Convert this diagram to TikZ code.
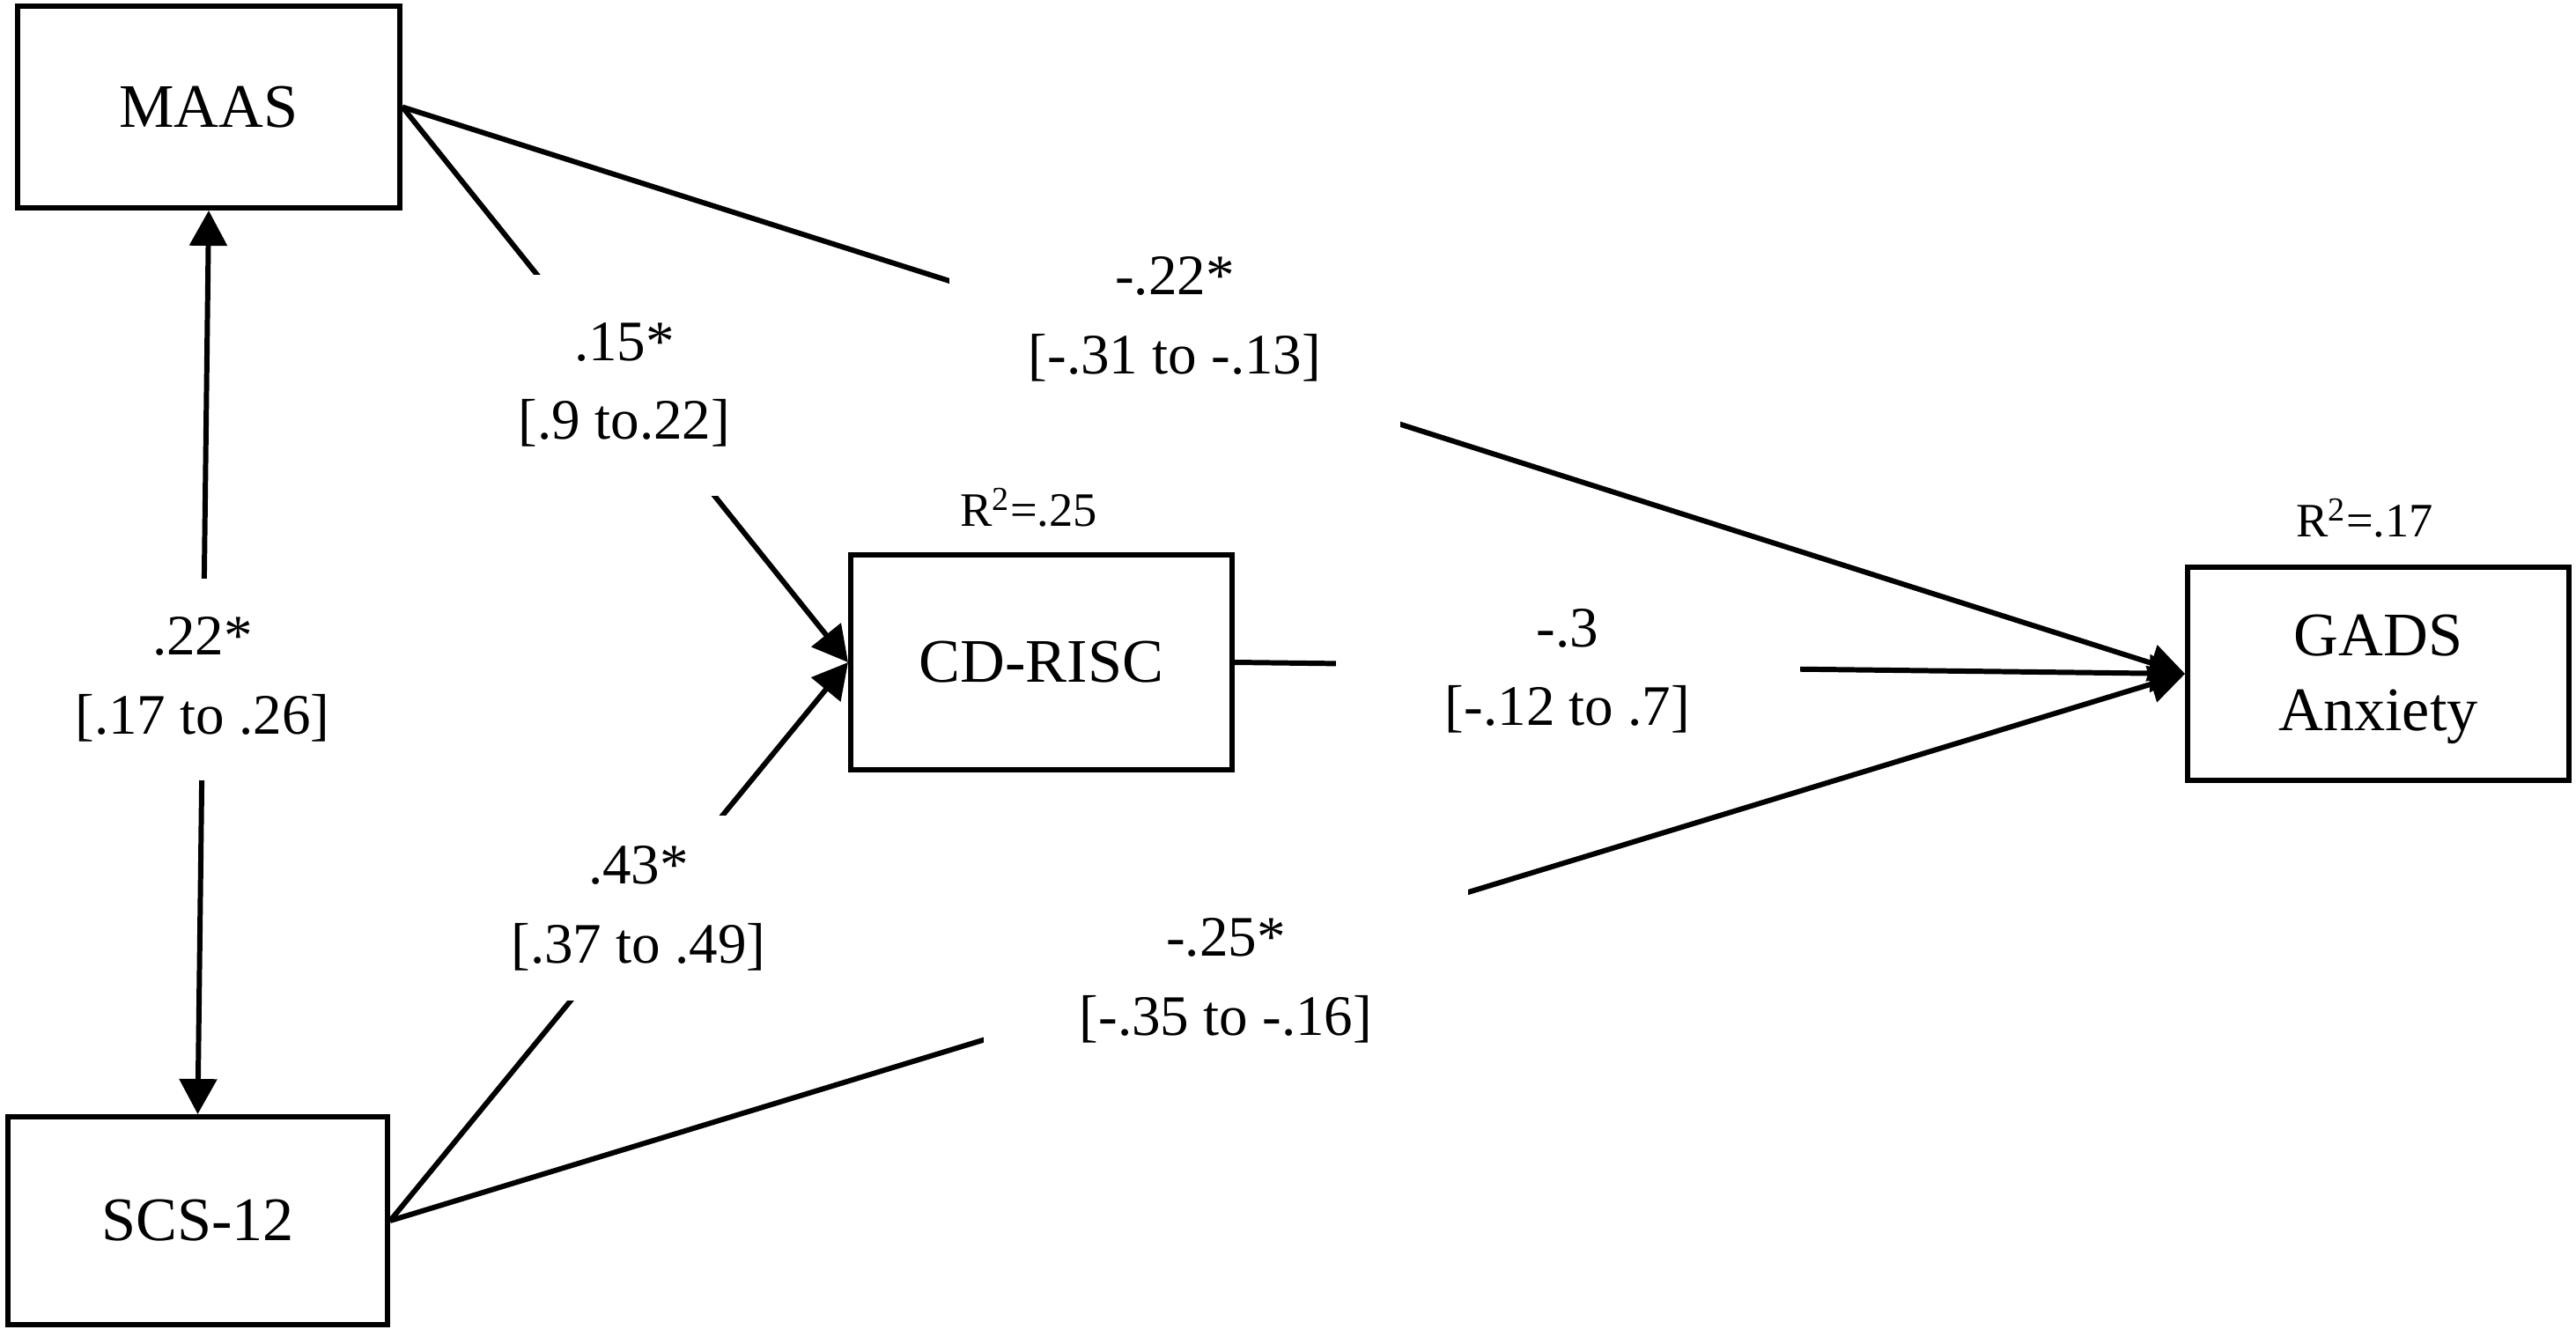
\documentclass[tikz,border=0pt]{standalone}
\usepackage{fontspec}
\setmainfont{Liberation Serif}
\usetikzlibrary{arrows.meta}
\tikzset{
	var/.style={draw, rectangle, line width=1.7pt, minimum width=4.33cm, align=center, font=\fontsize{20}{24}\selectfont},
	effect/.style={line width=1.7pt, -{Triangle[length=0.4cm, width=0.42cm]}},
	corr/.style={line width=1.7pt, {Triangle[length=0.4cm, width=0.42cm]}-{Triangle[length=0.4cm, width=0.42cm]}},
	coef/.style={fill=white, inner sep=0pt, align=center, font=\fontsize{18.5}{25.5}\selectfont},
	rsq/.style={font=\fontsize{15.5}{18}\selectfont}
}

\begin{document}
\begin{tikzpicture}
	\useasboundingbox (0, 0) rectangle (29.25, 15.17);
	\node[var, minimum width=4.34cm, minimum height=2.29cm] (maas) at (2.37, 13.955) {MAAS};
	\node[var, minimum width=4.31cm, minimum height=2.36cm] (scs) at (2.245, 1.31) {SCS-12};
	\node[var, minimum height=2.44cm] (cd) at (11.825, 7.65) {CD-RISC};
	\node[var, minimum height=2.42cm] (gads) at (27.005, 7.52) {\strut GADS\\Anxiety};
	\node[rsq] (r2cd) at (11.68, 9.41) {R\textsuperscript{2}=.25};
	\node[rsq] (r2gads) at (26.85, 9.29) {R\textsuperscript{2}=.17};
	\draw[corr] (maas.south) -- (scs.north);
	\draw[effect] (maas.east) -- (cd.west);
	\draw[effect] (scs.east) -- (cd.west);
	\draw[effect] (maas.east) -- (gads.west);
	\draw[effect] (cd.east) -- (gads.west);
	\draw[effect] (scs.east) -- (gads.west);
	\node[coef, minimum width=3cm, minimum height=2.29cm] (lms) at (2.30, 7.455) {.22*\\{}[.17 to .26]};
	\node[coef, minimum width=2.8cm, minimum height=2.51cm] (lmc) at (7.09, 10.80) {.15*\\{}[.9 to.22]};
	\node[coef, minimum width=2.8cm, minimum height=2.1cm] (lsc) at (7.25, 4.86) {.43*\\{}[.37 to .49]};
	\node[coef, minimum width=5.12cm, minimum height=2.45cm] (lmg) at (13.34, 11.545) {-.22*\\{}[-.31 to -.13]};
	\node[coef, minimum width=5.27cm, minimum height=1.8cm] (lcg) at (17.80, 7.55) {-.3\\{}[-.12 to .7]};
	\node[coef, minimum width=5.5cm, minimum height=2.26cm] (lsg) at (13.92, 4.04) {-.25*\\{}[-.35 to -.16]};
\end{tikzpicture}
\end{document}
